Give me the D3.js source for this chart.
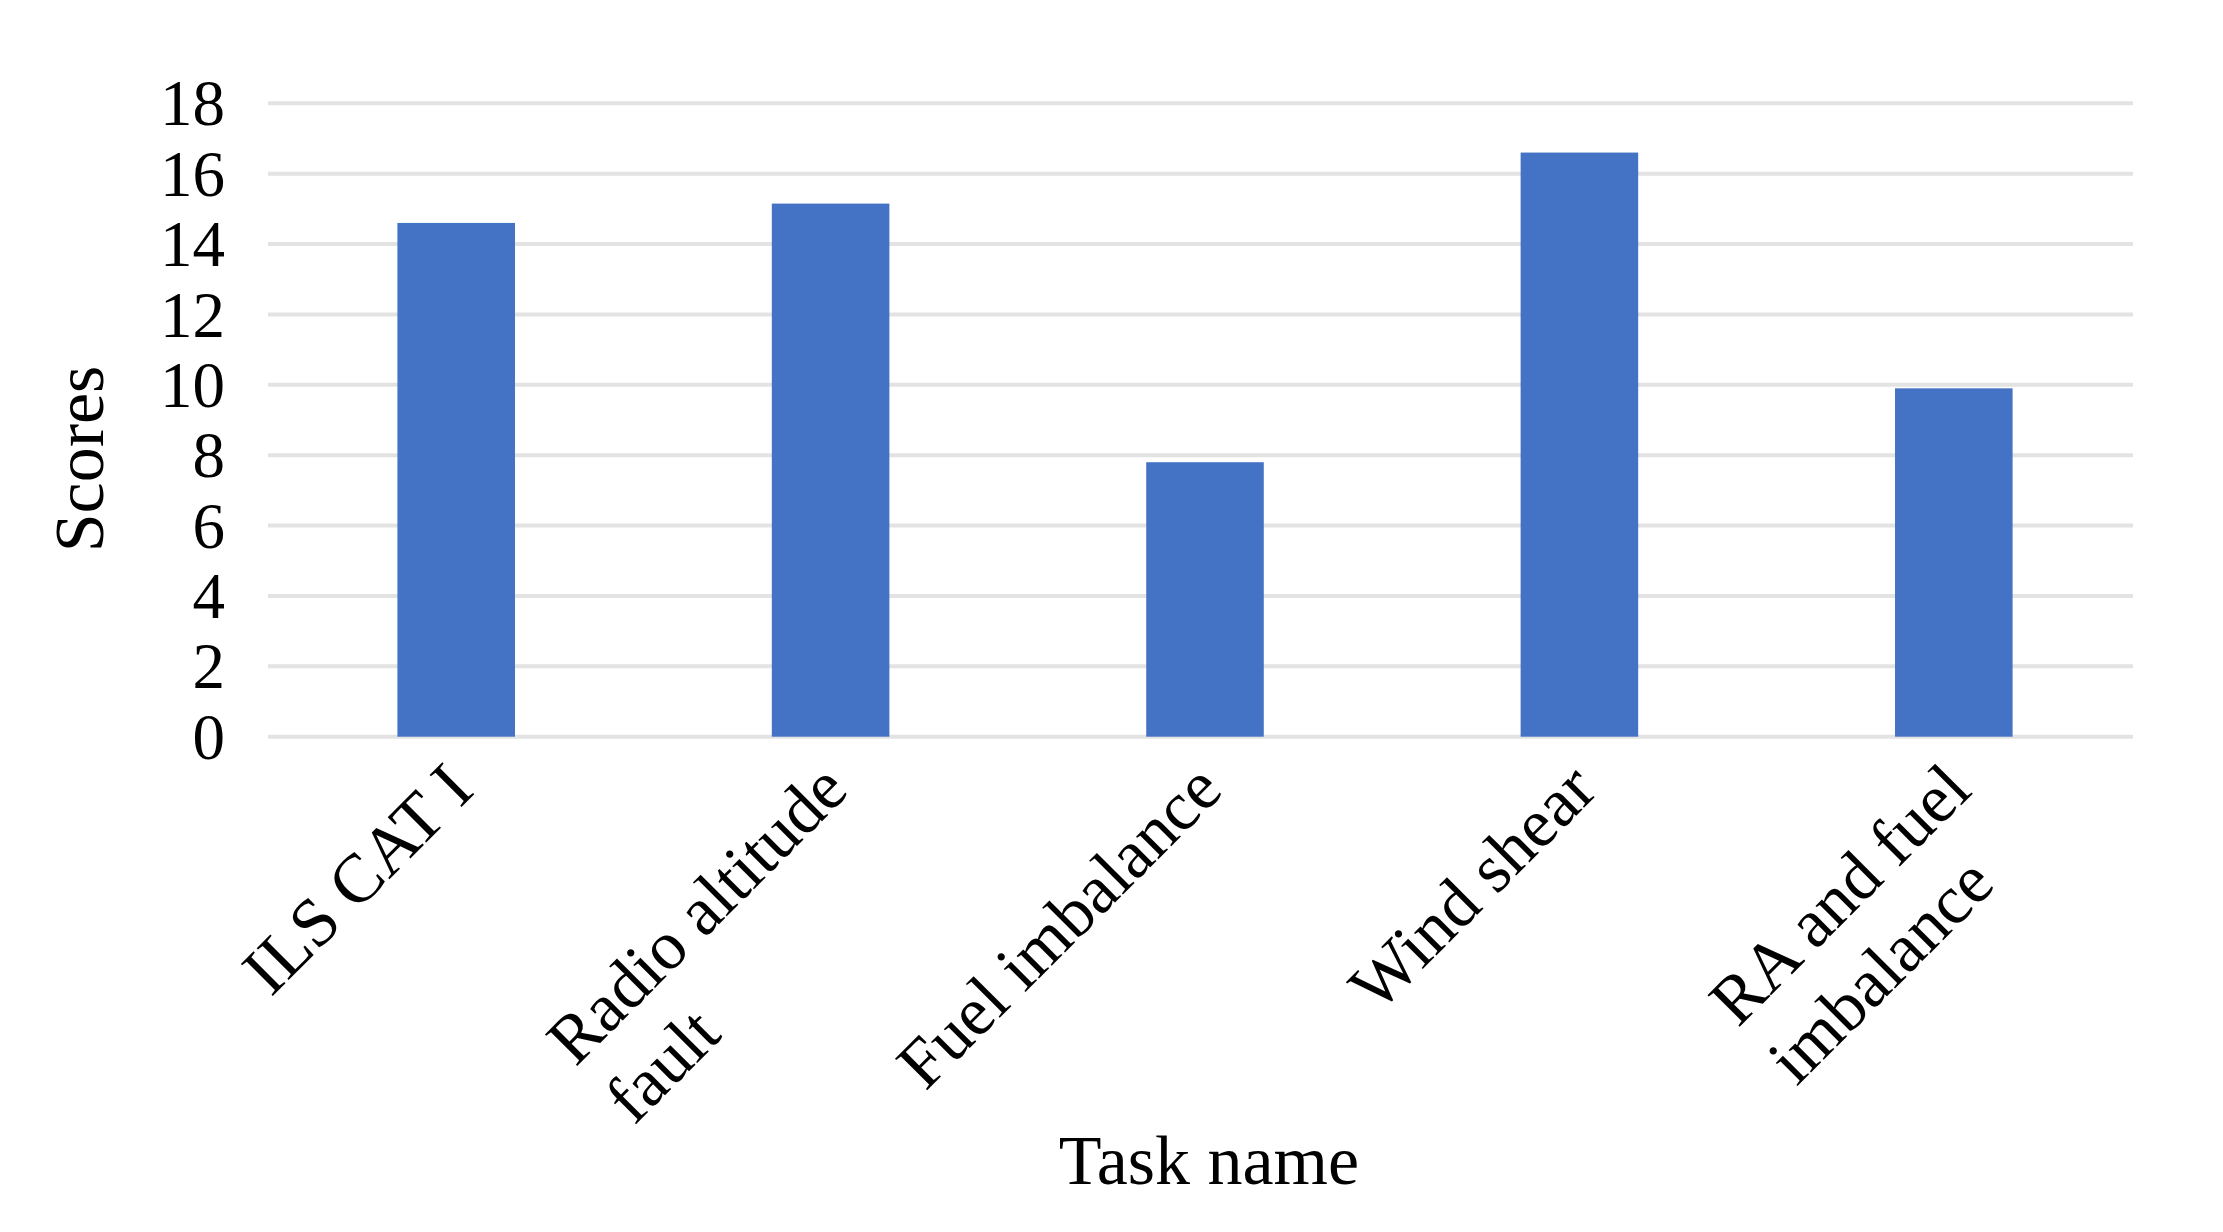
<!DOCTYPE html>
<html lang="en">
<head>
  <meta charset="UTF-8" />
  <title>Scores by task</title>
  <script src="https://d3js.org/d3.v7.min.js"></script>
  <style>
    body { margin: 0; padding: 0; background: #fff; }
    svg { display: block; background: #fff; }
    text { font-family: "Liberation Serif", "Times New Roman", serif; fill: #000; }
    .grid line { stroke: #e3e3e3; stroke-width: 4px; }
    .tick-label { font-size: 65px; }
    .cat-label { font-size: 69px; }
    .axis-title { font-size: 70px; }
  </style>
</head>
<body>
  <svg></svg>

  <script>
  // Data
  const tasks = [
    ["ILS CAT I"],
    ["Radio altitude", "fault"],
    ["Fuel imbalance"],
    ["Wind shear"],
    ["RA and fuel", "imbalance"]
  ];
  const scores = [14.6, 15.15, 7.8, 16.6, 9.9];
  const yTicks = [0, 2, 4, 6, 8, 10, 12, 14, 16, 18];

  const W = 2223, H = 1232;
  const plot = { left: 268, right: 2133, top: 103.3, bottom: 736.7 };

  const svg = d3.select('svg').attr('width', W).attr('height', H);

  const names = tasks.map(t => t.join(' '));
  const x = d3.scaleBand().domain(names)
    .range([plot.left + 1, plot.right + 8])
    .paddingInner(0.686).paddingOuter(0.343);
  const y = d3.scaleLinear().domain([0, 18]).range([plot.bottom, plot.top]);

  // Gridlines
  svg.append('g').attr('class', 'grid')
    .selectAll('line').data(yTicks).enter().append('line')
    .attr('x1', plot.left).attr('x2', plot.right)
    .attr('y1', d => y(d)).attr('y2', d => y(d));

  // Y tick labels
  svg.append('g').selectAll('text').data(yTicks).enter().append('text')
    .attr('class', 'tick-label')
    .attr('x', 225)
    .attr('y', d => y(d))
    .attr('dy', '0.34em')
    .attr('text-anchor', 'end')
    .text(d => d);

  // Bars
  svg.append('g').selectAll('rect').data(scores).enter().append('rect')
    .attr('x', (d, i) => x(names[i]))
    .attr('width', x.bandwidth())
    .attr('y', d => y(d))
    .attr('height', d => y(0) - y(d))
    .attr('fill', '#4472C4');

  // Category labels, rotated -45deg; extra lines start-aligned with the first
  const cats = svg.append('g').selectAll('g').data(tasks).enter().append('g')
    .attr('transform', (d, i) => `translate(${x(names[i]) + x.bandwidth() / 2 - 24},${plot.bottom + 12}) rotate(-45)`);

  cats.each(function(lines) {
    const g = d3.select(this);
    const first = g.append('text').attr('class', 'cat-label')
      .attr('text-anchor', 'end').attr('y', '0.9em').text(lines[0]);
    const len = first.node().getComputedTextLength();
    lines.slice(1).forEach((ln, k) => {
      g.append('text').attr('class', 'cat-label')
        .attr('text-anchor', 'start')
        .attr('x', -len)
        .attr('y', `${0.9 + 1.2 * (k + 1)}em`)
        .text(ln);
    });
  });

  // Axis titles
  svg.append('text').attr('class', 'axis-title')
    .attr('transform', 'translate(103,459) rotate(-90)')
    .attr('text-anchor', 'middle')
    .text('Scores');

  svg.append('text').attr('class', 'axis-title')
    .attr('x', 1209).attr('y', 1184)
    .attr('text-anchor', 'middle')
    .text('Task name');
  </script>
</body>
</html>
